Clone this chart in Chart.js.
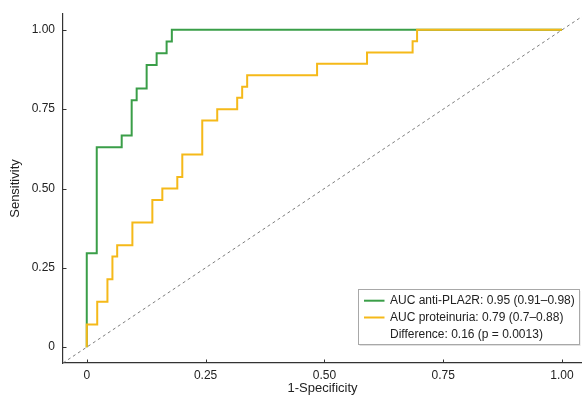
<!DOCTYPE html>
<html>
<head>
<meta charset="utf-8">
<script src="https://cdn.jsdelivr.net/npm/chart.js@4/dist/chart.umd.min.js"></script>
<style>
  html, body { margin: 0; padding: 0; background: #ffffff; }
  #wrap { width: 582px; height: 402px; }
</style>
</head>
<body>
<div id="wrap"><canvas id="c" width="582" height="402"></canvas></div>
<script>
// ---- data ----
const pla2rFPR = [0, 0, 0.021, 0.0735, 0.0945, 0.105, 0.126, 0.147, 0.168, 0.179, 1.0];
const pla2rTPR = [0, 0.296, 0.630, 0.667, 0.778, 0.815, 0.889, 0.926, 0.963, 1.0, 1.0];

const protFPR = [0, 0, 0.022, 0.0435, 0.054, 0.064, 0.096, 0.138, 0.159, 0.1905, 0.201, 0.243, 0.2745, 0.3165, 0.327, 0.3375, 0.4846, 0.5897, 0.6856, 0.695, 1.0];
const protTPR = [0, 0.071, 0.143, 0.214, 0.286, 0.321, 0.393, 0.464, 0.500, 0.536, 0.607, 0.714, 0.750, 0.786, 0.821, 0.857, 0.893, 0.929, 0.964, 1.0, 1.0];

const chanceLine = [-0.05, 1.05];

const tickValues = [0, 0.25, 0.5, 0.75, 1];
const tickLabels = ['0', '0.25', '0.50', '0.75', '1.00'];

const seriesLabels = ['AUC anti-PLA2R: 0.95 (0.91–0.98)', 'AUC proteinuria: 0.79 (0.7–0.88)'];
const noteLabel = 'Difference: 0.16 (p = 0.0013)';
const axisTitles = { x: '1-Specificity', y: 'Sensitivity' };

// ---- build ----
const toPts = (xs, ys) => xs.map((x, i) => ({ x: x, y: ys[i] }));
const FONT = "'Liberation Sans', Arial, sans-serif";
const GREEN = '#3a9e48';
const YELLOW = '#f5b919';

const labelMap = {};
tickValues.forEach((v, i) => labelMap[v] = tickLabels[i]);

const inwardTicks = {
  id: 'inwardTicks',
  afterDraw(chart) {
    const ctx = chart.ctx;
    const xs = chart.scales.x, ys = chart.scales.y;
    const a = chart.chartArea;
    ctx.save();
    ctx.strokeStyle = '#333';
    ctx.lineWidth = 1;
    tickValues.forEach(v => {
      const px = Math.round(xs.getPixelForValue(v)) + 0.5;
      ctx.beginPath(); ctx.moveTo(px, a.bottom); ctx.lineTo(px, a.bottom - 3.5); ctx.stroke();
      const py = Math.round(ys.getPixelForValue(v)) + 0.5;
      ctx.beginPath(); ctx.moveTo(a.left, py); ctx.lineTo(a.left + 3.5, py); ctx.stroke();
    });
    ctx.restore();
  }
};

const boxLegend = {
  id: 'boxLegend',
  afterDraw(chart) {
    const ctx = chart.ctx;
    const x0 = 358.5, y0 = 289.5, w = 221, h = 55;
    ctx.save();
    ctx.fillStyle = 'rgba(0,0,0,0.12)';
    ctx.fillRect(x0 + 1, y0 + 1.5, w, h);
    ctx.fillStyle = '#ffffff';
    ctx.fillRect(x0, y0, w, h);
    ctx.strokeStyle = '#a8a8a8';
    ctx.lineWidth = 1;
    ctx.strokeRect(x0, y0, w, h);
    ctx.font = '12px ' + FONT;
    ctx.textBaseline = 'middle';
    const rows = [
      { text: seriesLabels[0], color: GREEN },
      { text: seriesLabels[1], color: YELLOW },
      { text: noteLabel, color: null }
    ];
    rows.forEach((r, i) => {
      const cy = 300.7 + i * 16.8;
      if (r.color) {
        ctx.strokeStyle = r.color;
        ctx.lineWidth = 2;
        ctx.beginPath(); ctx.moveTo(364, cy); ctx.lineTo(384.5, cy); ctx.stroke();
      }
      ctx.fillStyle = '#222';
      ctx.fillText(r.text, 390, cy);
    });
    ctx.restore();
  }
};

new Chart(document.getElementById('c'), {
  type: 'scatter',
  data: {
    datasets: [
      {
        label: seriesLabels[1],
        data: toPts(protFPR, protTPR),
        showLine: true, stepped: 'before',
        borderColor: YELLOW, borderWidth: 2, pointRadius: 0, order: 0
      },
      {
        label: seriesLabels[0],
        data: toPts(pla2rFPR, pla2rTPR),
        showLine: true, stepped: 'before',
        borderColor: GREEN, borderWidth: 2, pointRadius: 0, order: 1
      },
      {
        label: 'chance',
        data: toPts(chanceLine, chanceLine),
        showLine: true,
        borderColor: '#6f6f6f', borderWidth: 0.9, borderDash: [3, 3],
        pointRadius: 0, order: 2
      }
    ]
  },
  options: {
    responsive: false,
    animation: false,
    devicePixelRatio: 1,
    layout: { padding: { top: 14, right: 0, bottom: 0, left: 0 } },
    plugins: { legend: { display: false }, tooltip: { enabled: false } },
    scales: {
      x: {
        type: 'linear', min: -0.05, max: 1.042,
        afterBuildTicks: s => { s.ticks = tickValues.map(v => ({ value: v })); },
        afterFit: s => { s.height = 39; s.paddingLeft = 0; s.paddingRight = 0; },
        ticks: { callback: v => labelMap[v], color: '#222', font: { family: FONT, size: 12 }, padding: 5, maxRotation: 0, autoSkip: false },
        grid: { display: false, drawTicks: false },
        border: { display: true, color: '#333', width: 1.2 },
        title: { display: true, text: axisTitles.x, color: '#222', font: { family: FONT, size: 13 }, padding: { top: 0, bottom: 6 } }
      },
      y: {
        type: 'linear', min: -0.05, max: 1.05,
        afterBuildTicks: s => { s.ticks = tickValues.map(v => ({ value: v })); },
        afterFit: s => { s.width = 63; s.paddingTop = 0; s.paddingBottom = 0; },
        ticks: { callback: v => labelMap[v], color: '#222', font: { family: FONT, size: 12 }, padding: 8, autoSkip: false },
        grid: { display: false, drawTicks: false },
        border: { display: true, color: '#333', width: 1.2 },
        title: { display: true, text: axisTitles.y, color: '#222', font: { family: FONT, size: 13 }, padding: { top: 8, bottom: 0 } }
      }
    }
  },
  plugins: [inwardTicks, boxLegend]
});
</script>
</body>
</html>
